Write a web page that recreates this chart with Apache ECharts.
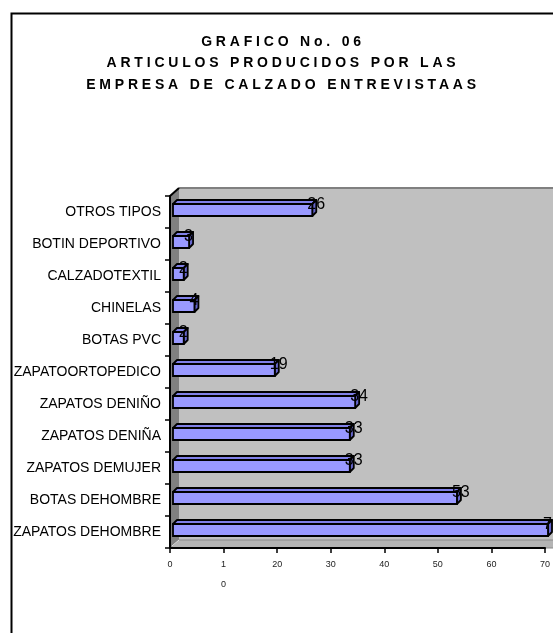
<!DOCTYPE html>
<html>
<head>
<meta charset="utf-8">
<script src="https://cdn.jsdelivr.net/npm/echarts@6/dist/echarts.min.js"></script>
<style>
html,body{margin:0;padding:0;background:#fff;}
#wrap{position:relative;width:553px;height:633px;}
#c{position:absolute;left:0;top:0;width:553px;height:633px;}
#t{position:absolute;left:12px;top:14px;width:538px;height:100px;pointer-events:none;}
</style>
</head>
<body>
<div id="wrap"><div id="c"></div><div id="t"></div></div>
<script>
const titleLines = ['GRAFICO No. 06', 'ARTICULOS PRODUCIDOS POR LAS', 'EMPRESA DE CALZADO ENTREVISTAAS'];
const categories = ['ZAPATOS DEHOMBRE', 'BOTAS DEHOMBRE', 'ZAPATOS DEMUJER', 'ZAPATOS DENIÑA', 'ZAPATOS DENIÑO', 'ZAPATOORTOPEDICO', 'BOTAS PVC', 'CHINELAS', 'CALZADOTEXTIL', 'BOTIN DEPORTIVO', 'OTROS TIPOS'];
const values = [70, 53, 33, 33, 34, 19, 2, 4, 2, 3, 26];
const xTickValues = [0, 10, 20, 30, 40, 50, 60, 70];
const xTickLabels = ['0', '1\n0', '20', '30', '40', '50', '60', '70'];

const chart = echarts.init(document.getElementById('c'), null, {renderer: 'canvas'});

const barData = values.map((v, i) => [v, i]);

function renderWalls(params, api) {
  const cs = params.coordSys;
  const gx = cs.x, gy = cs.y, gh = cs.height;
  const dx = 9, dy = -8, R = 600;
  return {
    type: 'group',
    children: [
      {type: 'rect', shape: {x: gx + dx, y: gy + dy, width: R - gx, height: gh}, style: {fill: '#c0c0c0'}},
      {type: 'line', shape: {x1: gx + dx, y1: gy + dy, x2: R, y2: gy + dy}, style: {stroke: '#808080', lineWidth: 2}},
      {type: 'polygon', shape: {points: [[gx, gy], [gx + dx, gy + dy], [gx + dx, gy + gh + dy], [gx, gy + gh]]}, style: {fill: '#808080'}},
      {type: 'polygon', shape: {points: [[gx, gy + gh], [gx + dx, gy + gh + dy], [R, gy + gh + dy], [R, gy + gh]]}, style: {fill: '#b4b4b4', stroke: '#8a8a8a', lineWidth: 1}},
      {type: 'line', shape: {x1: gx + 2, y1: gy + gh - 2, x2: gx + dx, y2: gy + gh + dy}, style: {stroke: '#e0e0e0', lineWidth: 1}},
      {type: 'line', shape: {x1: gx, y1: gy, x2: gx + dx, y2: gy + dy}, style: {stroke: '#000', lineWidth: 2}}
    ]
  };
}

function renderBar(params, api) {
  const v = api.value(0), c = api.value(1);
  const p0 = api.coord([0, c]);
  const p1 = api.coord([v, c]);
  const x0 = p0[0] + 3, x1 = p1[0] + 3;
  const yTop = p0[1] - 8, h = 12, yBot = yTop + h;
  const d = 4;
  return {
    type: 'group',
    children: [
      {type: 'polygon', shape: {points: [[x0, yTop], [x0 + d, yTop - d], [x1 + d, yTop - d], [x1, yTop]]},
        style: {fill: '#8080e8', stroke: '#000', lineWidth: 1.8, lineJoin: 'round'}},
      {type: 'polygon', shape: {points: [[x1, yTop], [x1 + d, yTop - d], [x1 + d, yBot - d], [x1, yBot]]},
        style: {fill: '#6666cc', stroke: '#000', lineWidth: 1.8, lineJoin: 'round'}},
      {type: 'rect', shape: {x: x0, y: yTop, width: x1 - x0, height: h},
        style: {fill: '#9999ff', stroke: '#000', lineWidth: 1.8}},
      {type: 'text', x: x1 - 5, y: p0[1] - 7,
        style: {text: String(v), fill: '#000', font: '16px "Liberation Sans", Arial, sans-serif', textAlign: 'left', textVerticalAlign: 'middle'}}
    ]
  };
}

chart.setOption({
  animation: false,
  backgroundColor: '#ffffff',
  graphic: [
    {type: 'rect', left: 9, top: 11, shape: {x: 0, y: 0, width: 620, height: 700}, style: {fill: 'none', stroke: '#000', lineWidth: 2}, z: 100}
  ],
  grid: {left: 170, right: 6, top: 196, bottom: 85, containLabel: false},
  xAxis: {
    type: 'value', min: 0, max: 70, interval: 10,
    axisLine: {show: true, lineStyle: {color: '#000', width: 2}},
    axisTick: {show: true, length: 5, lineStyle: {color: '#000', width: 1.5}},
    splitLine: {show: false},
    axisLabel: {
      color: '#222', fontSize: 9, fontFamily: '"Liberation Sans", Arial, sans-serif', margin: 7, lineHeight: 20,
      formatter: function (val) { const i = xTickValues.indexOf(val); return i >= 0 ? xTickLabels[i] : ''; }
    }
  },
  yAxis: {
    type: 'category', data: categories,
    axisLine: {show: true, lineStyle: {color: '#000', width: 2}},
    axisTick: {show: true, length: 5, alignWithLabel: false, lineStyle: {color: '#000', width: 1.5}},
    axisLabel: {color: '#000', fontSize: 14, fontFamily: '"Liberation Sans", Arial, sans-serif', margin: 9}
  },
  series: [
    {type: 'custom', name: 'walls', renderItem: renderWalls, data: [[0, 0]], z: 0, silent: true, clip: false},
    {type: 'custom', name: 'bars', renderItem: renderBar, data: barData, encode: {x: 0, y: 1}, z: 5, clip: false}
  ]
});

// Title drawn by a second ECharts instance whose canvas uses wide letter spacing (as in the original)
const titleChart = echarts.init(document.getElementById('t'), null, {renderer: 'canvas'});
function titleOption(spacingOk) {
  return {
    animation: false,
    graphic: titleLines.map((line, i) => ({
      type: 'text', x: 269 + (spacingOk ? 2 : 0), y: 28 + i * 21.5,
      style: {text: line, fill: '#000', font: 'bold ' + (spacingOk ? 14 : 17) + 'px "Liberation Sans", Arial, sans-serif', textAlign: 'center', textVerticalAlign: 'middle'}
    }))
  };
}
titleChart.setOption(titleOption(false));
let spacingOk = false;
try {
  const cv = document.querySelector('#t canvas');
  const ctx = cv && cv.getContext('2d');
  if (ctx && 'letterSpacing' in ctx) { ctx.letterSpacing = '3.8px'; spacingOk = true; }
} catch (e) {}
if (spacingOk) {
  titleChart.setOption(titleOption(true), {notMerge: true});
  titleChart.getZr().refreshImmediately();
}
</script>
</body>
</html>
